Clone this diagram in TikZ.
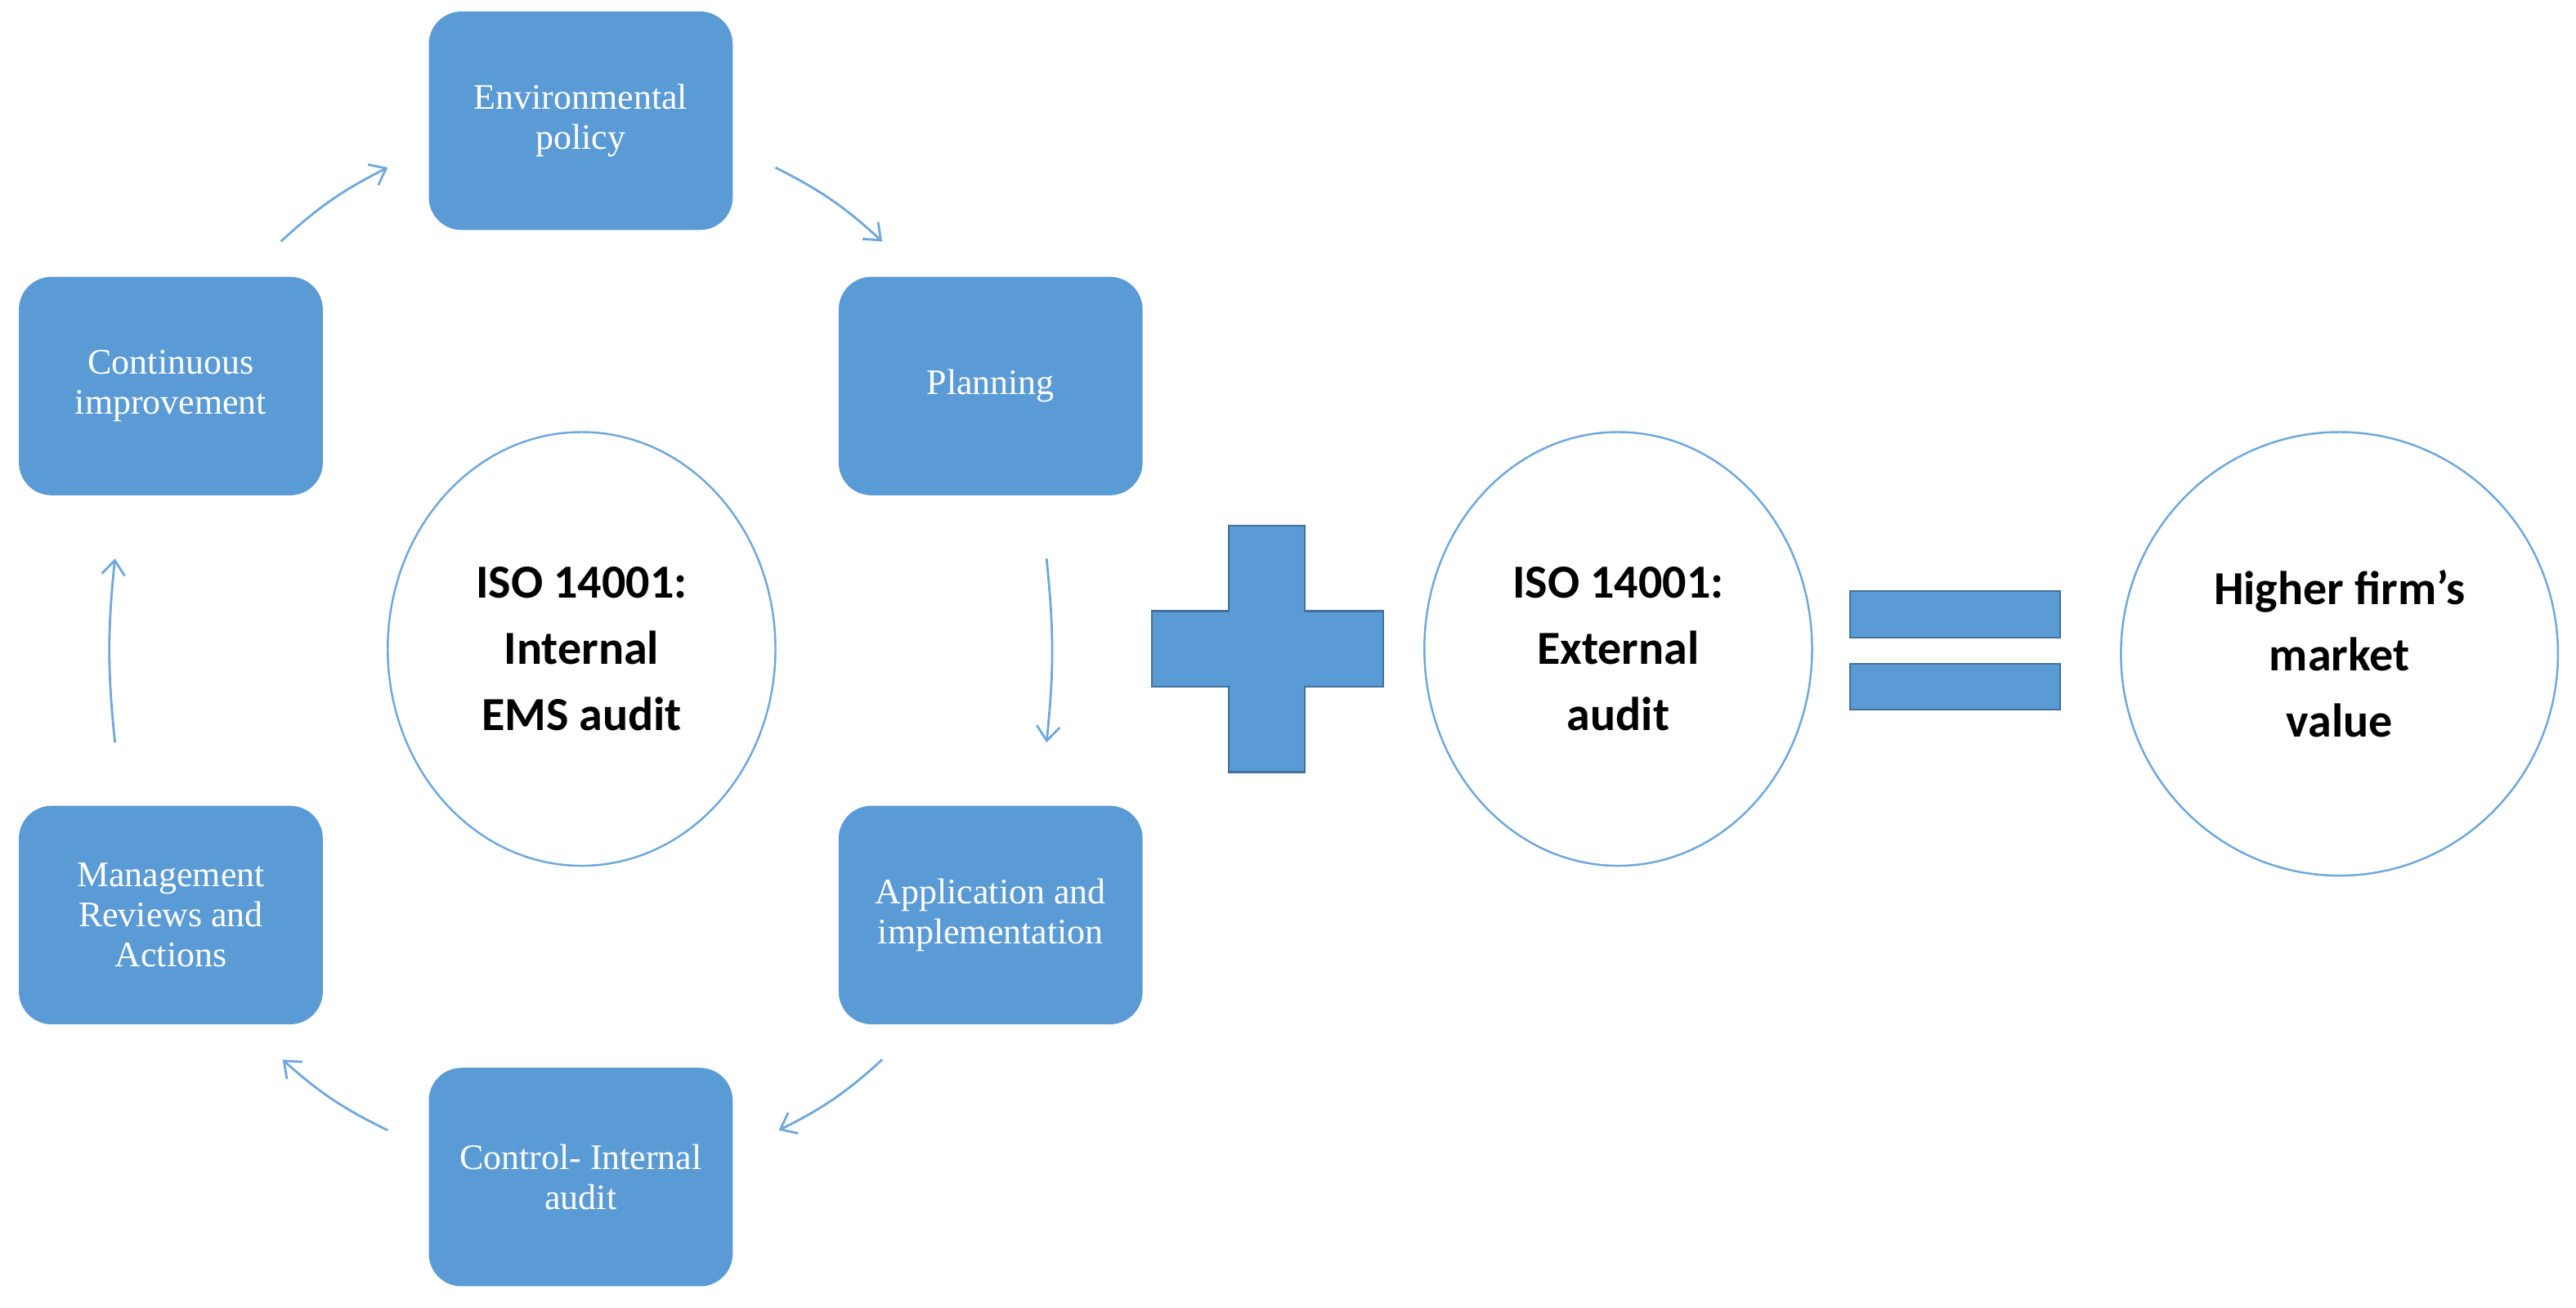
\documentclass[tikz,border=0pt]{standalone}
\usepackage{fontspec}
\setmainfont{Liberation Serif}
\newfontfamily\carfont{Carlito}
\usetikzlibrary{arrows.meta,shapes.geometric}
\definecolor{bx}{HTML}{5B9BD5}
\definecolor{ln}{HTML}{6FA8DC}
\definecolor{bd}{HTML}{41719C}
\begin{document}
\begin{tikzpicture}[x=0.0201cm,y=-0.0201cm,
 box/.style={fill=bx,draw=none,rounded corners=0.4cm,minimum width=185*0.0201cm,minimum height=133*0.0201cm,text=white,align=center,font=\fontsize{12.5}{14}\selectfont,inner sep=0pt},
 ell/.style={ellipse,draw=ln,line width=0.7pt,align=center,font=\carfont\bfseries\fontsize{16.5}{23}\selectfont},
 arr/.style={draw=ln,line width=0.8pt,-{Straight Barb[length=5pt,width=8pt]}},
 bar/.style={fill=bx,draw=bd,line width=0.6pt}]
\useasboundingbox (0,0) rectangle (1568,796);
\node[box] (env) at (353.5,73.5) {Environmental\\policy};
\node[box] (plan) at (603,235) {Planning};
\node[box] (app) at (603,557) {Application and\\implementation};
\node[box] (ctl) at (353.5,716.5) {Control- Internal\\audit};
\node[box] (mgt) at (104,557) {Management\\Reviews and\\Actions};
\node[box] (cont) at (104,235) {Continuous\\improvement};
\node[ell,minimum width=236*0.0201cm,minimum height=264*0.0201cm] (int) at (354,395) {ISO 14001:\\Internal\\EMS audit};
\node[ell,minimum width=236*0.0201cm,minimum height=264*0.0201cm] (ext) at (985,395) {ISO 14001:\\External\\audit};
\node[ell,minimum width=266*0.0201cm,minimum height=270*0.0201cm] (hig) at (1424,398) {Higher firm’s\\market\\value};
\coordinate (a1) at (472,102); \coordinate (a2) at (537,147);
\coordinate (b1) at (637,340); \coordinate (b2) at (637,452);
\coordinate (c1) at (537,645); \coordinate (c2) at (474,688);
\coordinate (d1) at (236,688); \coordinate (d2) at (172,645);
\coordinate (e1) at (70,452); \coordinate (e2) at (70,340);
\coordinate (f1) at (171,147); \coordinate (f2) at (236,102);
\draw[arr] (a1) to[bend left=8] (a2);
\draw[arr] (b1) to[bend left=6] (b2);
\draw[arr] (c1) to[bend left=8] (c2);
\draw[arr] (d1) to[bend left=8] (d2);
\draw[arr] (e1) to[bend left=6] (e2);
\draw[arr] (f1) to[bend left=8] (f2);
\path[bar] (748,320) -- (794,320) -- (794,372) -- (842,372) -- (842,418) -- (794,418) -- (794,470) -- (748,470) -- (748,418) -- (701,418) -- (701,372) -- (748,372) -- cycle;
\path[bar] (1126,360) rectangle (1254,388);
\path[bar] (1126,404) rectangle (1254,432);
\end{tikzpicture}
\end{document}
